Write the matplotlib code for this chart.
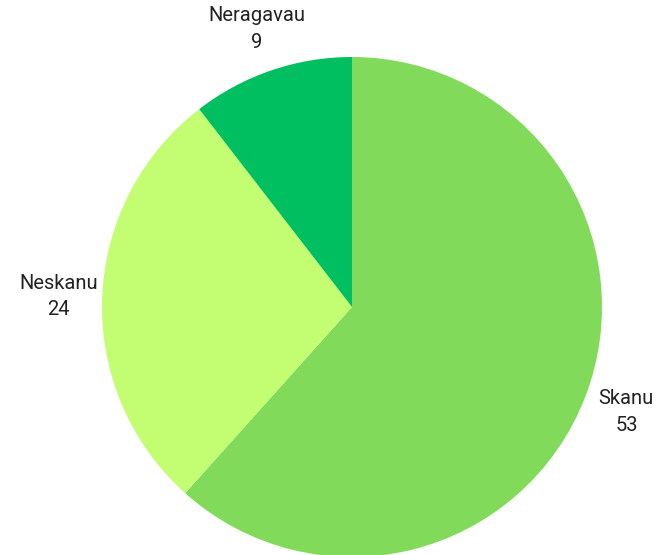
import numpy as np
import matplotlib
matplotlib.use("Agg")
import matplotlib.pyplot as plt

categories = ["Skanu", "Neskanu", "Neragavau"]
values = [53, 24, 9]
colors = ["#82DA5A", "#C2FD72", "#00BF60"]

fig = plt.figure(figsize=(6.71, 5.55), dpi=100)
ax = fig.add_axes([(352 - 250) / 671, (555 - 307 - 250) / 555, 500 / 671, 500 / 555])
wedges, _ = ax.pie(values, colors=colors, startangle=90, counterclock=False,
                   radius=1.0, wedgeprops=dict(linewidth=0))
ax.set_xlim(-1, 1)
ax.set_ylim(-1, 1)
ax.set_aspect("auto")
ax.axis("off")

for w, cat, v in zip(wedges, categories, values):
    mid = np.deg2rad((w.theta1 + w.theta2) / 2)
    r = 1.175
    x, y = r * np.cos(mid), r * np.sin(mid)
    ax.text(x, y, f"{cat}\n{v}", ha="center", va="center", fontsize=14.5,
            color="#222222", family=["Roboto", "DejaVu Sans"], linespacing=1.5,
            clip_on=False)

fig.savefig("out.png", dpi=100)
